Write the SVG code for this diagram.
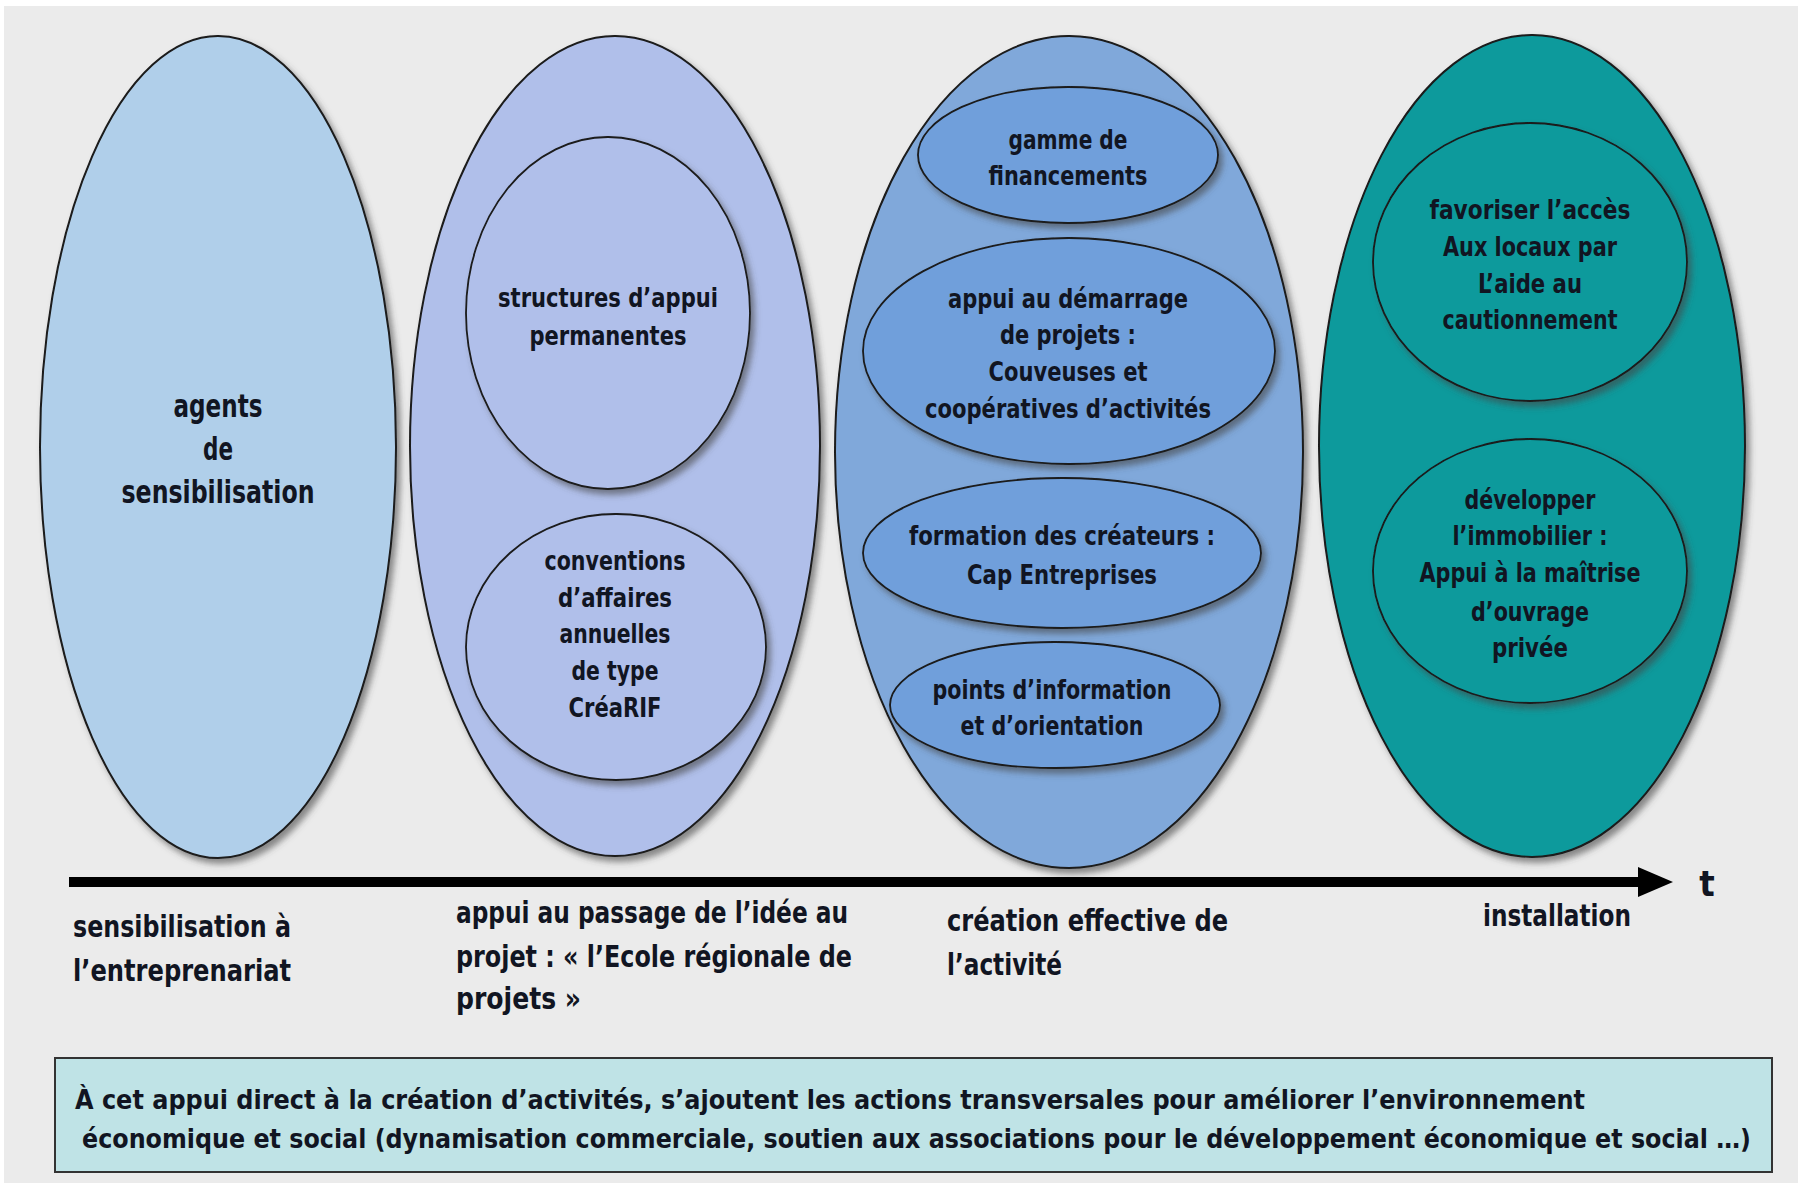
<svg xmlns="http://www.w3.org/2000/svg" width="1798" height="1183" viewBox="0 0 1798 1183">
<defs>
<filter id="sh" x="-10%" y="-10%" width="130%" height="130%">
<feDropShadow dx="4" dy="5" stdDeviation="3" flood-color="#444" flood-opacity="0.6"/>
</filter>
</defs>
<style>
.big{stroke:#1a1a1a;stroke-width:2;filter:url(#sh)}
.in{stroke:#1a1a1a;stroke-width:1.8;filter:url(#sh)}
text{font-family:"DejaVu Sans Condensed","Liberation Sans",sans-serif;font-weight:bold;fill:#111522;text-anchor:middle}
.t24{font-size:26px}
.t30{font-size:32px}
.lab{font-size:31px;text-anchor:start}
.box{font-size:27px;text-anchor:start}
</style>
<rect x="0" y="0" width="1798" height="1183" fill="#ffffff"/>
<rect x="4" y="6" width="1794" height="1177" fill="#ebebeb"/>

<g id="node-sensibilisation">
<ellipse cx="218" cy="447" rx="178" ry="411" class="big" fill="#b0cfea"/>
<text class="t30" x="218" y="417" textLength="89" lengthAdjust="spacingAndGlyphs">agents</text>
<text class="t30" x="218" y="460" textLength="30" lengthAdjust="spacingAndGlyphs">de</text>
<text class="t30" x="218" y="503" textLength="193" lengthAdjust="spacingAndGlyphs">sensibilisation</text>
</g>

<g id="node-passage">
<ellipse cx="615" cy="446" rx="205" ry="410" class="big" fill="#b0bfea"/>
<g id="node-structures">
<ellipse cx="608" cy="313" rx="142" ry="176" class="in" fill="#b0bfea"/>
<text class="t24" x="608" y="307" textLength="220" lengthAdjust="spacingAndGlyphs">structures d’appui</text>
<text class="t24" x="608" y="345" textLength="157" lengthAdjust="spacingAndGlyphs">permanentes</text>
</g>
<g id="node-conventions">
<ellipse cx="616" cy="647" rx="150" ry="133" class="in" fill="#b0bfea"/>
<text class="t24" x="615" y="570" textLength="141" lengthAdjust="spacingAndGlyphs">conventions</text>
<text class="t24" x="615" y="607" textLength="114" lengthAdjust="spacingAndGlyphs">d’affaires</text>
<text class="t24" x="615" y="643" textLength="111" lengthAdjust="spacingAndGlyphs">annuelles</text>
<text class="t24" x="615" y="680" textLength="87" lengthAdjust="spacingAndGlyphs">de type</text>
<text class="t24" x="615" y="717" textLength="93" lengthAdjust="spacingAndGlyphs">CréaRIF</text>
</g>
</g>

<g id="node-creation">
<ellipse cx="1069" cy="452" rx="234" ry="416" class="big" fill="#80a8da"/>
<g id="node-gamme">
<ellipse cx="1068" cy="155" rx="150" ry="68" class="in" fill="#6f9fdb"/>
<text class="t24" x="1068" y="149" textLength="119" lengthAdjust="spacingAndGlyphs">gamme de</text>
<text class="t24" x="1068" y="185" textLength="159" lengthAdjust="spacingAndGlyphs">financements</text>
</g>
<g id="node-demarrage">
<ellipse cx="1069" cy="351" rx="206" ry="113" class="in" fill="#6f9fdb"/>
<text class="t24" x="1068" y="308" textLength="240" lengthAdjust="spacingAndGlyphs">appui au démarrage</text>
<text class="t24" x="1068" y="344" textLength="136" lengthAdjust="spacingAndGlyphs">de projets :</text>
<text class="t24" x="1068" y="381" textLength="159" lengthAdjust="spacingAndGlyphs">Couveuses et</text>
<text class="t24" x="1068" y="418" textLength="286" lengthAdjust="spacingAndGlyphs">coopératives d’activités</text>
</g>
<g id="node-formation">
<ellipse cx="1062" cy="553" rx="199" ry="75" class="in" fill="#6f9fdb"/>
<text class="t24" x="1062" y="545" textLength="306" lengthAdjust="spacingAndGlyphs">formation des créateurs :</text>
<text class="t24" x="1062" y="584" textLength="190" lengthAdjust="spacingAndGlyphs">Cap Entreprises</text>
</g>
<g id="node-points">
<ellipse cx="1055" cy="705" rx="165" ry="63" class="in" fill="#6f9fdb"/>
<text class="t24" x="1052" y="699" textLength="239" lengthAdjust="spacingAndGlyphs">points d’information</text>
<text class="t24" x="1052" y="735" textLength="183" lengthAdjust="spacingAndGlyphs">et d’orientation</text>
</g>
</g>

<g id="node-installation">
<ellipse cx="1532" cy="446" rx="213" ry="411" class="big" fill="#0e9a9c"/>
<g id="node-locaux">
<ellipse cx="1530" cy="262" rx="157" ry="139" class="in" fill="#0e9a9c"/>
<text class="t24" x="1530" y="219" textLength="201" lengthAdjust="spacingAndGlyphs">favoriser l’accès</text>
<text class="t24" x="1530" y="256" textLength="174" lengthAdjust="spacingAndGlyphs">Aux locaux par</text>
<text class="t24" x="1530" y="293" textLength="104" lengthAdjust="spacingAndGlyphs">L’aide au</text>
<text class="t24" x="1530" y="329" textLength="175" lengthAdjust="spacingAndGlyphs">cautionnement</text>
</g>
<g id="node-immobilier">
<ellipse cx="1530" cy="571" rx="157" ry="132" class="in" fill="#0e9a9c"/>
<text class="t24" x="1530" y="509" textLength="131" lengthAdjust="spacingAndGlyphs">développer</text>
<text class="t24" x="1530" y="545" textLength="155" lengthAdjust="spacingAndGlyphs">l’immobilier :</text>
<text class="t24" x="1530" y="582" textLength="221" lengthAdjust="spacingAndGlyphs">Appui à la maîtrise</text>
<text class="t24" x="1530" y="621" textLength="118" lengthAdjust="spacingAndGlyphs">d’ouvrage</text>
<text class="t24" x="1530" y="657" textLength="76" lengthAdjust="spacingAndGlyphs">privée</text>
</g>
</g>

<g id="connectors">
<line x1="69" y1="882" x2="1640" y2="882" stroke="#000" stroke-width="10"/>
<polygon points="1638,867 1673,882 1638,897" fill="#000"/>
</g>

<text x="1707" y="896" style="font-size:36px">t</text>

<text class="lab" x="73" y="937" textLength="218" lengthAdjust="spacingAndGlyphs">sensibilisation à</text>
<text class="lab" x="73" y="981" textLength="218" lengthAdjust="spacingAndGlyphs">l’entreprenariat</text>
<text class="lab" x="456" y="923" textLength="392" lengthAdjust="spacingAndGlyphs">appui au passage de l’idée au</text>
<text class="lab" x="456" y="967" textLength="396" lengthAdjust="spacingAndGlyphs">projet : « l’Ecole régionale de</text>
<text class="lab" x="456" y="1009" textLength="125" lengthAdjust="spacingAndGlyphs">projets »</text>
<text class="lab" x="947" y="931" textLength="281" lengthAdjust="spacingAndGlyphs">création effective de</text>
<text class="lab" x="947" y="975" textLength="115" lengthAdjust="spacingAndGlyphs">l’activité</text>
<text class="lab" x="1483" y="926" textLength="148" lengthAdjust="spacingAndGlyphs">installation</text>

<g id="node-note">
<rect x="55" y="1058" width="1717" height="114" fill="#bfe3e6" stroke="#333" stroke-width="2"/>
<text class="box" x="75" y="1109" textLength="1510" lengthAdjust="spacingAndGlyphs">À cet appui direct à la création d’activités, s’ajoutent les actions transversales pour améliorer l’environnement</text>
<text class="box" x="82" y="1148" textLength="1669" lengthAdjust="spacingAndGlyphs">économique et social (dynamisation commerciale, soutien aux associations pour le développement économique et social …)</text>
</g>
</svg>
